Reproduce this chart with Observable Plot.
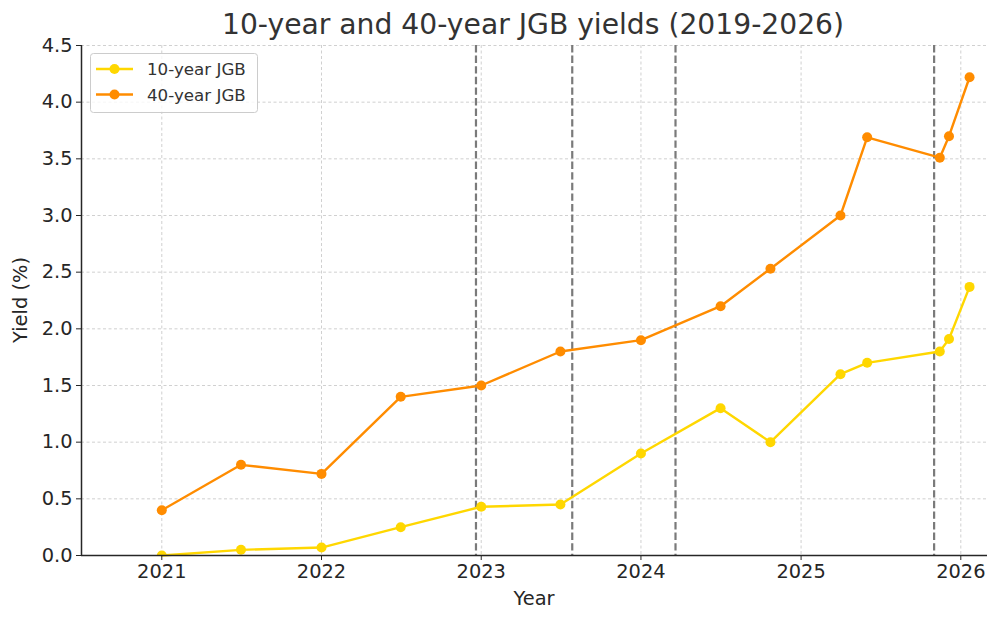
<!DOCTYPE html>
<html><head><meta charset="utf-8">
<script src="https://cdn.jsdelivr.net/npm/d3@7"></script>
<script src="https://cdn.jsdelivr.net/npm/@observablehq/plot@0.6"></script>
<style>body{margin:0;background:#fff} #chart{width:1000px;height:623px;position:relative}</style>
</head><body><div id="chart"></div>
<script>
// ---- data ----
const dates = ["2021-01-01","2021-07-01","2022-01-01","2022-07-01","2023-01-01","2023-07-01","2024-01-01","2024-07-01","2024-10-23","2025-04-01","2025-06-01","2025-11-14","2025-12-05","2026-01-21"];
const yield10 = [0.00,0.05,0.07,0.25,0.43,0.45,0.90,1.30,1.00,1.60,1.70,1.80,1.91,2.37];
const yield40 = [0.40,0.80,0.72,1.40,1.50,1.80,1.90,2.20,2.53,3.00,3.69,3.51,3.70,4.22];
const eventDates = ["2022-12-20","2023-07-28","2024-03-20","2025-11-01"];
const yearTicks = ["2021-01-01","2022-01-01","2023-01-01","2024-01-01","2025-01-01","2026-01-01"];
const yTicks = [0,0.5,1.0,1.5,2.0,2.5,3.0,3.5,4.0,4.5];
const seriesNames = ["10-year JGB","40-year JGB"];
const seriesColors = ["#FFD700","#FF8C00"];
const titleText = "10-year and 40-year JGB yields (2019-2026)";
const xLabel = "Year";
const yLabel = "Yield (%)";

// ---- build ----
const toDate = s => new Date(s + "T00:00:00Z");
const rows10 = dates.map((d,i)=>({date:toDate(d), value:yield10[i]}));
const rows40 = dates.map((d,i)=>({date:toDate(d), value:yield40[i]}));
const xDomain = [new Date("2020-07-01T12:00:00Z"), toDate("2026-03-03")];
const FONT = "'DejaVu Sans', sans-serif";
const INK = "#262626";
const gridStyle = {stroke:"#b0b0b0", strokeOpacity:0.75, strokeWidth:0.8, strokeDasharray:"3,2.5"};
const LW = 2.4, R = 5;

const svg = Plot.plot({
  width:1000, height:623,
  marginLeft:81, marginRight:13, marginTop:45, marginBottom:68,
  style:{fontFamily:FONT, fontSize:"19.4px", color:INK, background:"white", overflow:"visible"},
  x:{type:"utc", domain:xDomain},
  y:{domain:[0,4.5]},
  marks:[
    Plot.gridX(yearTicks.map(toDate), gridStyle),
    Plot.gridY(yTicks, gridStyle),
    Plot.ruleX(eventDates.map(toDate), {stroke:"#7a7a7a", strokeWidth:2.2, strokeDasharray:"7.4,3.2"}),
    Plot.line(rows10, {x:"date", y:"value", stroke:seriesColors[0], strokeWidth:LW}),
    Plot.dot(rows10, {x:"date", y:"value", fill:seriesColors[0], r:R, clip:true}),
    Plot.line(rows40, {x:"date", y:"value", stroke:seriesColors[1], strokeWidth:LW}),
    Plot.dot(rows40, {x:"date", y:"value", fill:seriesColors[1], r:R, clip:true}),
    Plot.axisX(yearTicks.map(toDate), {tickFormat:d3.utcFormat("%Y"), tickSize:5, tickPadding:4, fontSize:19.4, label:null, stroke:INK, fill:INK}),
    Plot.axisY(yTicks, {tickFormat:d3.format(".1f"), tickSize:5, tickPadding:4, fontSize:19.4, label:null, stroke:INK, fill:INK}),
    Plot.ruleY([0], {stroke:INK, strokeWidth:1.5}),
    Plot.ruleX([xDomain[0]], {stroke:INK, strokeWidth:1.5})
  ]
});

const s = d3.select(svg);
s.append("text").attr("x",533).attr("y",33.6).attr("text-anchor","middle")
  .attr("font-size","28.2px").attr("fill","#333").attr("font-family",FONT).text(titleText);
s.append("text").attr("x",534).attr("y",605).attr("text-anchor","middle")
  .attr("font-size","19.4px").attr("fill",INK).attr("font-family",FONT).text(xLabel);
s.append("text").attr("transform","translate(27,300) rotate(-90)").attr("text-anchor","middle")
  .attr("font-size","19.4px").attr("fill",INK).attr("font-family",FONT).text(yLabel);

const lg = s.append("g");
lg.append("rect").attr("x",90.5).attr("y",53.5).attr("width",167).attr("height",59).attr("rx",3)
  .attr("fill","white").attr("fill-opacity",0.8).attr("stroke","#cccccc");
seriesNames.forEach((name,i)=>{
  const cy = 69 + i*25.5;
  lg.append("line").attr("x1",96).attr("x2",133).attr("y1",cy).attr("y2",cy)
    .attr("stroke",seriesColors[i]).attr("stroke-width",LW);
  lg.append("circle").attr("cx",114.5).attr("cy",cy).attr("r",R).attr("fill",seriesColors[i]);
  lg.append("text").attr("x",147).attr("y",cy+6).attr("text-anchor","start")
    .attr("font-size","16.7px").attr("fill","#333").attr("font-family",FONT).text(name);
});

document.getElementById("chart").appendChild(svg);
</script>
</body></html>
